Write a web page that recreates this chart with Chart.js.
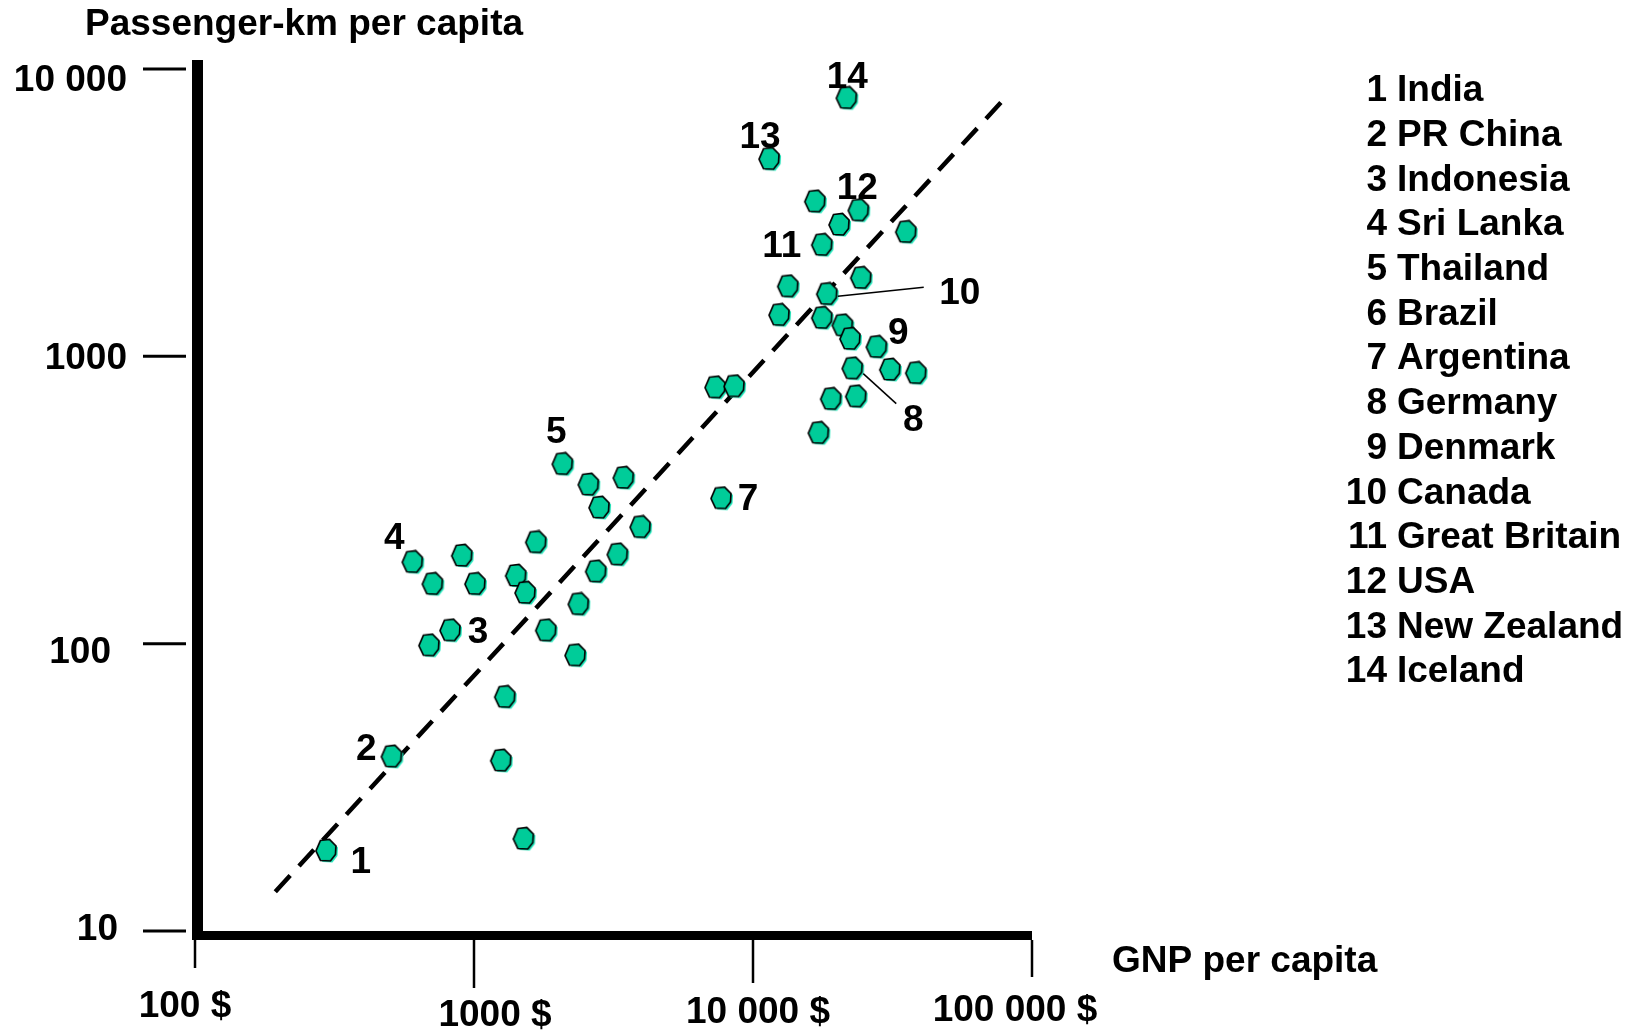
<!DOCTYPE html>
<html>
<head>
<meta charset="utf-8">
<title>Passenger-km per capita vs GNP per capita</title>
<script src="https://cdn.jsdelivr.net/npm/chart.js@4.4.1/dist/chart.umd.min.js"></script>
<style>
  html, body { margin: 0; padding: 0; background: #fff; }
  #wrap { position: relative; width: 1629px; height: 1034px; }
</style>
</head>
<body>
<div id="wrap"><canvas id="travelChart"></canvas></div>
<script>
// legend list (number -> country)
const countryNames = ['India', 'PR China', 'Indonesia', 'Sri Lanka', 'Thailand', 'Brazil', 'Argentina',
  'Germany', 'Denmark', 'Canada', 'Great Britain', 'USA', 'New Zealand', 'Iceland'];

// one entry per country dot; pointNumber is the number written next to it (null = no label)
const pointNumber = [1, 2, 3, 4, 5, 7, 8, 9, 10, 11, 12, 13, 14,
  null, null, null, null, null, null, null, null, null, null, null, null,
  null, null, null, null, null, null, null, null, null,
  null, null, null, null, null, null, null, null, null, null, null, null, null, null];
const gnpPerCapita = [297, 510, 827, 606, 2089, 7740, 22870, 27910, 18530, 17780, 24040, 11510, 21780,
  695, 911, 715, 1016, 1422, 1536, 2384, 1822, 2321, 1299, 1257, 1515,
  1678, 2590, 3457, 2830, 3970, 3290, 2752, 7370, 8620,
  16790, 20510, 35560, 24530, 13430, 12500, 17780, 21080, 22440, 31170, 38620, 19140, 23540, 17290];
const pkmPerCapita = [19.0, 40.4, 111, 192, 421, 320, 906, 1076, 1644, 2437, 3216, 4853, 7910,
  98.4, 202, 161, 161, 172, 150, 137, 111, 90.9, 65.1, 39.1, 20.9,
  225, 357, 377, 297, 254, 204, 178, 778, 785,
  3453, 2866, 2704, 1871, 1749, 1390, 1358, 1279, 1148, 897, 873, 709, 724, 540];

// dashed trend line end points
const trendGnp = [194, 78500];
const trendPkm = [13.7, 7760];

const xTickValues = [100, 1000, 10000, 100000];
const xTickLabels = ['100 $', '1000 $', '10 000 $', '100 000 $'];
const yTickValues = [10, 100, 1000, 10000];
const yTickLabels = ['10', '100', '1000', '10 000'];

// ---- styling only below ----
const FONT = '"Liberation Sans", Arial, Helvetica, sans-serif';
const xTickDrop = [28, 48, 43, 37];
const xLabelShift = [[-10, 76], [21, 85], [5, 82], [-17, 80]];
const yLabelShift = [[-77, -1], [-84, 9], [-68, 2], [-68, 12]];
const labelShift = {1: [34, 12], 2: [-26, -7], 3: [27, 2], 4: [-19, -23], 5: [-7, -31], 7: [26, 1],
  8: [60, 52], 9: [21, -13], 10: [132, -1], 11: [-41, 2], 12: [-2, -22], 13: [-10, -21], 14: [0, -20]};
const leaders = {10: [10, 2, 96, -7], 8: [10, 5, 43, 35]};

function makeMarker() {
  const c = document.createElement('canvas');
  c.width = 28; c.height = 26;
  const g = c.getContext('2d');
  const poly = [[7.5, 2.5], [16.5, 1.5], [23, 8], [22.5, 16.5], [17.5, 23], [7.5, 22.5], [3, 13]];
  const path = (dx, dy) => {
    g.beginPath();
    poly.forEach((p, i) => i ? g.lineTo(p[0] + dx, p[1] + dy) : g.moveTo(p[0] + dx, p[1] + dy));
    g.closePath();
  };
  path(2, 1.5);
  g.fillStyle = '#1de8bb';
  g.fill();
  path(0, 0);
  g.fillStyle = '#00cc99';
  g.fill();
  g.lineWidth = 1.7;
  g.strokeStyle = '#000';
  g.stroke();
  return c;
}

const decorations = {
  id: 'decorations',
  afterDatasetsDraw(chart) {
    const ctx = chart.ctx;
    const {left, right, bottom} = chart.chartArea;
    const xs = chart.scales.x, ys = chart.scales.y;
    ctx.save();
    ctx.fillStyle = '#000';
    ctx.strokeStyle = '#000';

    // thick axes
    ctx.fillRect(left - 3, 60, 11, bottom + 9 - 60);
    ctx.fillRect(left - 3, bottom, right - left + 3, 9);

    ctx.font = 'bold 37px ' + FONT;
    ctx.textBaseline = 'middle';

    // y ticks
    ctx.lineWidth = 3;
    yTickValues.forEach((v, i) => {
      const py = ys.getPixelForValue(v);
      ctx.beginPath();
      ctx.moveTo(left - 52, py);
      ctx.lineTo(left - 9, py);
      ctx.stroke();
      ctx.textAlign = 'right';
      ctx.fillText(yTickLabels[i], left + yLabelShift[i][0], py + yLabelShift[i][1]);
    });

    // x ticks
    ctx.lineWidth = 2.5;
    xTickValues.forEach((v, i) => {
      const px = xs.getPixelForValue(v);
      ctx.beginPath();
      ctx.moveTo(px, bottom + 9);
      ctx.lineTo(px, bottom + 9 + xTickDrop[i]);
      ctx.stroke();
      ctx.textAlign = 'center';
      ctx.fillText(xTickLabels[i], px + xLabelShift[i][0], bottom + xLabelShift[i][1]);
    });

    // axis titles
    ctx.textAlign = 'left';
    ctx.fillText('Passenger-km per capita', 85, 25);
    ctx.fillText('GNP per capita', 1112, 962);

    // country list
    countryNames.forEach((name, i) => {
      const y = 91 + i * 44.7;
      ctx.textAlign = 'right';
      ctx.fillText(String(i + 1), 1387, y);
      ctx.textAlign = 'left';
      ctx.fillText(name, 1397, y);
    });

    // numbers beside dots, with leader lines for 8 and 10
    ctx.textAlign = 'center';
    ctx.lineWidth = 1.5;
    pointNumber.forEach((n, i) => {
      if (n === null) return;
      const px = xs.getPixelForValue(gnpPerCapita[i]);
      const py = ys.getPixelForValue(pkmPerCapita[i]);
      const s = labelShift[n];
      ctx.fillText(String(n), px + s[0], py + s[1]);
      const l = leaders[n];
      if (l) {
        ctx.beginPath();
        ctx.moveTo(px + l[0], py + l[1]);
        ctx.lineTo(px + l[2], py + l[3]);
        ctx.stroke();
      }
    });
    ctx.restore();
  }
};

const marker = makeMarker();

new Chart(document.getElementById('travelChart'), {
  type: 'scatter',
  data: {
    datasets: [{
      label: 'Countries',
      data: gnpPerCapita.map((g, i) => ({x: g, y: pkmPerCapita[i]})),
      pointStyle: marker,
      pointRadius: 11,
      clip: false
    }, {
      type: 'line',
      label: 'Trend',
      data: trendGnp.map((g, i) => ({x: g, y: trendPkm[i]})),
      borderColor: '#000',
      borderWidth: 4.5,
      borderDash: [22, 13],
      pointRadius: 0,
      fill: false,
      clip: false
    }]
  },
  options: {
    responsive: true,
    maintainAspectRatio: false,
    animation: false,
    events: [],
    layout: { padding: { left: 195, right: 597, top: 69, bottom: 103 } },
    scales: {
      x: { type: 'logarithmic', min: 100, max: 100000, display: false },
      y: { type: 'logarithmic', min: 10, max: 10000, display: false }
    },
    plugins: { legend: { display: false }, tooltip: { enabled: false } }
  },
  plugins: [decorations]
});
</script>
</body>
</html>
